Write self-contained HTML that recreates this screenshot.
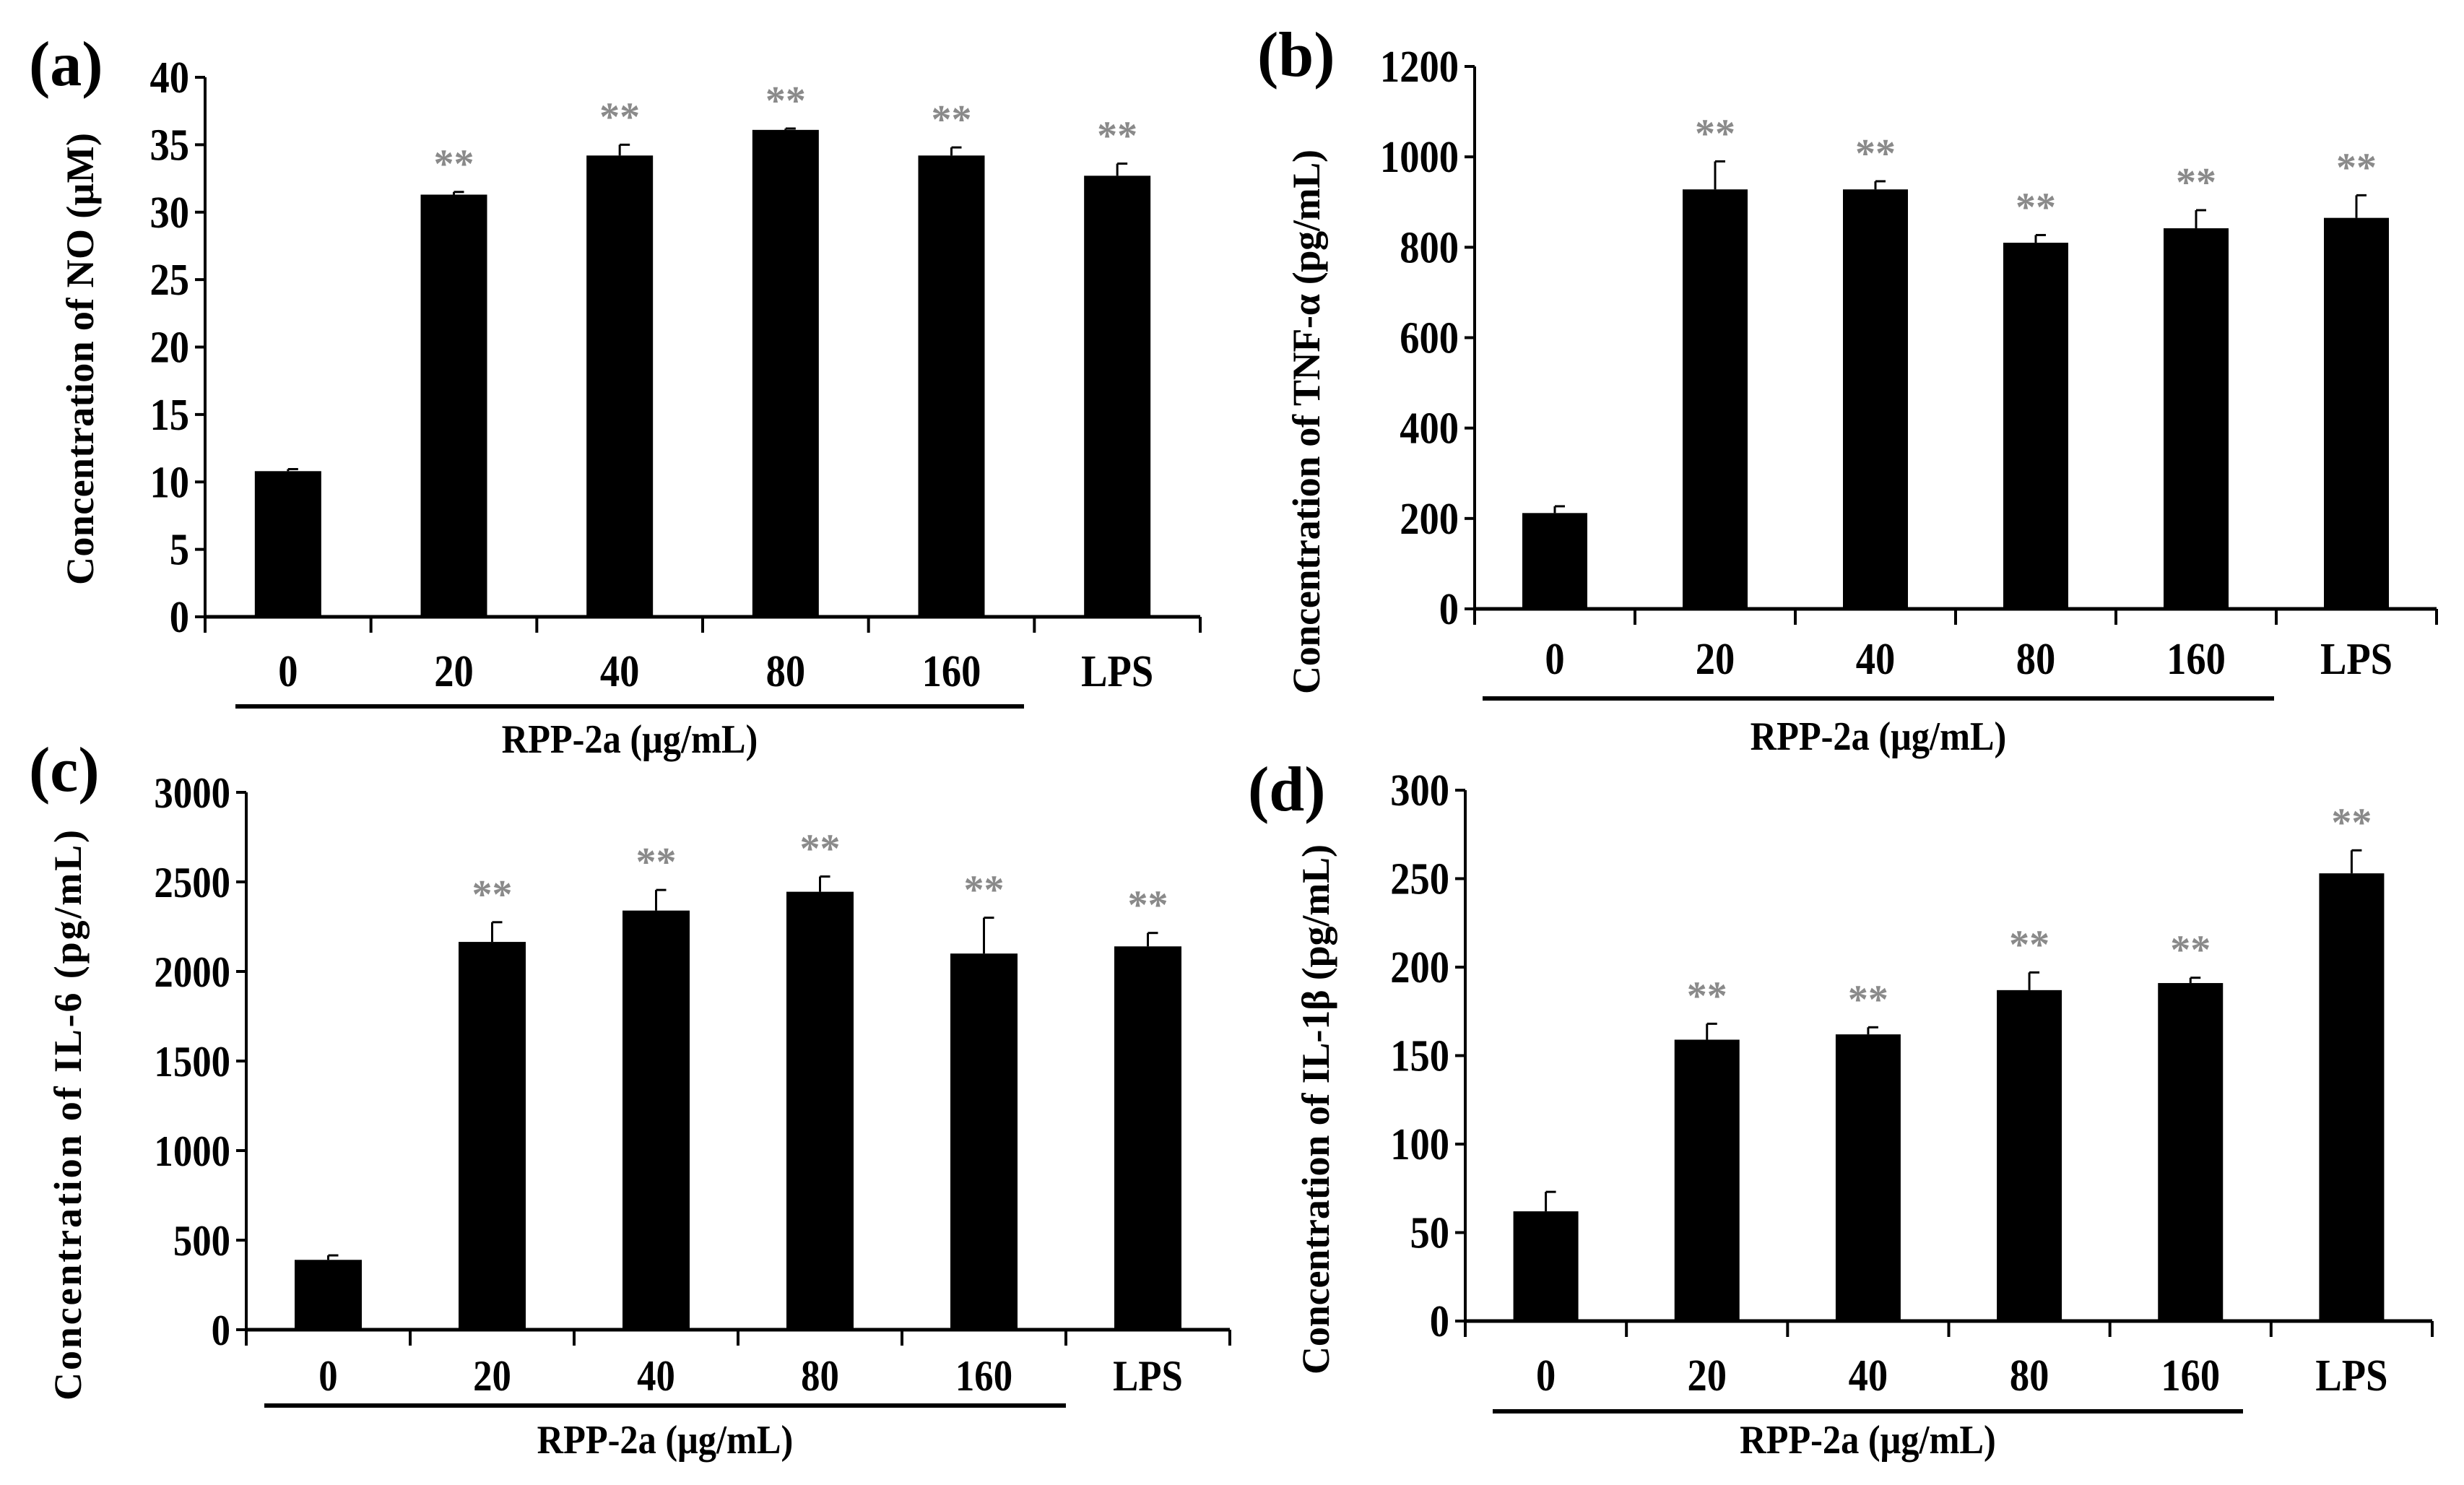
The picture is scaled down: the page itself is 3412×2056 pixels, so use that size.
<!DOCTYPE html>
<html><head><meta charset="utf-8"><style>
html,body{margin:0;padding:0;background:#fff}
svg{display:block}
text{font-family:"Liberation Serif",serif;font-weight:bold}
</style></head><body>
<svg id="fig" width="3412" height="2056" viewBox="0 0 3412 2056" xmlns="http://www.w3.org/2000/svg"></svg>
<script>
const categories = ["0","20","40","80","160","LPS"];
const noValues = [10.8,31.3,34.2,36.1,34.2,32.7];
const noErrors = [0.15,0.2,0.8,0.1,0.6,0.9];
const noTicks = [0,5,10,15,20,25,30,35,40];
const tnfValues = [212,928,928,810,842,865];
const tnfErrors = [15,62,18,17,40,50];
const tnfTicks = [0,200,400,600,800,1000,1200];
const il6Values = [390,2165,2340,2445,2100,2140];
const il6Errors = [25,110,115,85,200,75];
const il6Ticks = [0,500,1000,1500,2000,2500,3000];
const il1bValues = [62,159,162,187,191,253];
const il1bErrors = [11,9,4,10,3,13];
const il1bTicks = [0,50,100,150,200,250,300];
const sigMarks = ["","**","**","**","**","**"];

const NS="http://www.w3.org/2000/svg";
const svg=document.getElementById('fig');
function mk(tag,attrs,parent,txt){const e=document.createElementNS(NS,tag);for(const k in attrs)e.setAttribute(k,attrs[k]);if(txt!==undefined)e.textContent=txt;(parent||svg).appendChild(e);return e;}

function panel(o){
  const g=mk('g',{});
  
  
  const tmax=o.ticks[o.ticks.length-1];
  const yS=v=>o.y0-(v/tmax)*(o.y0-o.yTop);
  const cw=(o.xEnd-o.x0)/categories.length;
  const xC=i=>o.x0+cw*(i+0.5);
  const pl=mk('text',{x:o.lx,y:o.ly,'font-size':88},g,o.letter);
  
  
  const ya=mk('line',{x1:o.x0,y1:o.yTop,x2:o.x0,y2:o.y0,stroke:'#000','stroke-width':4},g);
  
  
  o.ticks.forEach(t=>{
    mk('line',{x1:o.x0-14,y1:yS(t),x2:o.x0,y2:yS(t),stroke:'#000','stroke-width':4},g);
    const tl=mk('text',{x:0,y:0,'font-size':o.tfs,'text-anchor':'end',transform:`translate(${o.x0-22},${yS(t)+21}) scale(0.88,1)`},g,String(t));
    
    
  });
  const xa=mk('line',{x1:o.x0-2,y1:o.y0,x2:o.xEnd,y2:o.y0,stroke:'#000','stroke-width':5},g);
  
  
  for(let i=0;i<=categories.length;i++){
    mk('line',{x1:o.x0+cw*i,y1:o.y0,x2:o.x0+cw*i,y2:o.y0+22,stroke:'#000','stroke-width':4},g);
  }
  categories.forEach((c,i)=>{
    const v=o.values[i],e=o.errors[i];
    const bw=o.bw;
    const b=mk('rect',{x:xC(i)-bw/2,y:yS(v),width:bw,height:o.y0-yS(v),fill:'#000'},g);
    
    
    mk('line',{x1:xC(i),y1:yS(v),x2:xC(i),y2:yS(v+e),stroke:'#000','stroke-width':3},g);
    mk('line',{x1:xC(i),y1:yS(v+e),x2:xC(i)+14,y2:yS(v+e),stroke:'#000','stroke-width':3},g);
    if(sigMarks[i]){
      const s=mk('text',{x:xC(i),y:yS(v+e)-20,'font-size':56,'text-anchor':'middle',fill:'#8a8a8a','font-weight':'normal','font-family':'"Liberation Sans",sans-serif'},g,sigMarks[i]);
      
      
    }
    const cl=mk('text',{x:0,y:0,'font-size':o.tfs,'text-anchor':'middle',transform:`translate(${xC(i)},${o.labY+22}) scale(0.88,1)`},g,c);
    
    
  });
  const ul=mk('line',{x1:o.ux1,y1:o.uy,x2:o.ux2,y2:o.uy,stroke:'#000','stroke-width':6},g);
  
  
  const xt=mk('text',{x:0,y:0,'font-size':56,'text-anchor':'middle',transform:`translate(${(o.ux1+o.ux2)/2},${o.ry+20}) scale(0.9,1)`},g,'RPP-2a (μg/mL)');
  
  
  const cy=(o.yl1+o.yl2)/2;
  const yt=mk('text',{x:0,y:0,'font-size':54,'text-anchor':'middle',transform:`translate(${o.ylx+19},${cy}) rotate(-90)`,textLength:o.yl2-o.yl1,lengthAdjust:'spacing'},g,o.ytitle);
  
  
}

panel({id:'no',letter:'(a)',lx:40,ly:118,values:noValues,errors:noErrors,ticks:noTicks,x0:284,xEnd:1662,y0:854,yTop:107,bw:92,tfs:62,labY:928,ux1:326,ux2:1418,uy:978,ry:1022,ylx:110,yl1:184,yl2:810,ytitle:'Concentration of NO (μM)'});
panel({id:'tnf',letter:'(b)',lx:1741,ly:105,values:tnfValues,errors:tnfErrors,ticks:tnfTicks,x0:2042,xEnd:3374,y0:843,yTop:92,bw:90,tfs:62,labY:911,ux1:2053,ux2:3149,uy:967,ry:1018,ylx:1808,yl1:207,yl2:961,ytitle:'Concentration of TNF-α (pg/mL)'});
panel({id:'il6',letter:'(c)',lx:40,ly:1095,values:il6Values,errors:il6Errors,ticks:il6Ticks,x0:341,xEnd:1703,y0:1841,yTop:1097,bw:93,tfs:60,labY:1903,ux1:366,ux2:1476,uy:1946,ry:1992,ylx:93,yl1:1149,yl2:1939,ytitle:'Concentration of IL-6 (pg/mL)'});
panel({id:'il1b',letter:'(d)',lx:1728,ly:1122,values:il1bValues,errors:il1bErrors,ticks:il1bTicks,x0:2029,xEnd:3368,y0:1829,yTop:1094,bw:90,tfs:62,labY:1903,ux1:2067,ux2:3106,uy:1954,ry:1992,ylx:1821,yl1:1169,yl2:1903,ytitle:'Concentration of IL-1β (pg/mL)'});
</script>
</body></html>
